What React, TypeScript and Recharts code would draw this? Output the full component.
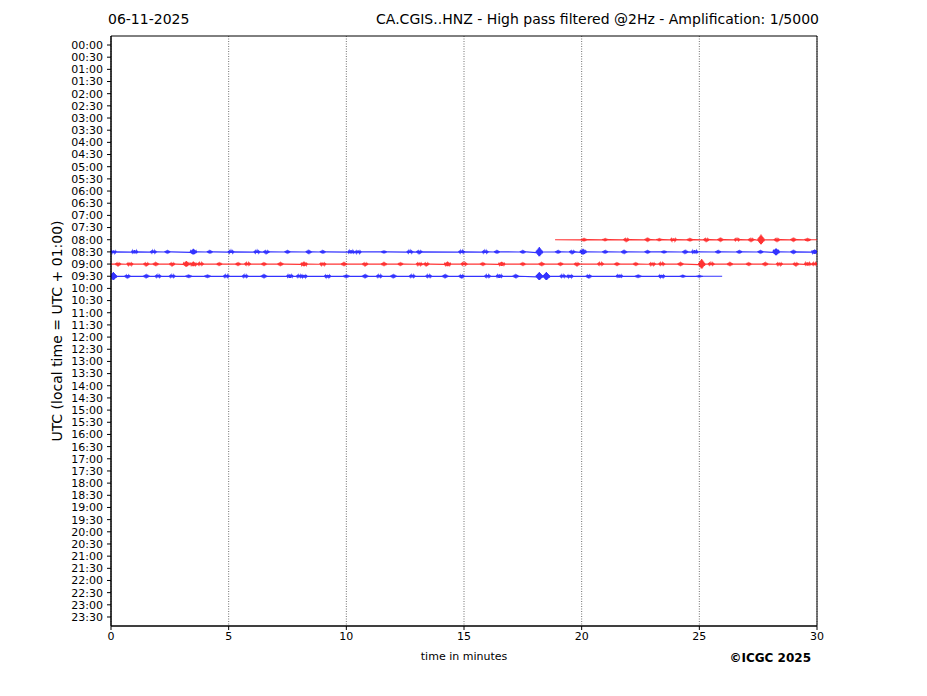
import { LineChart, Line, XAxis, YAxis, CartesianGrid, ReferenceArea } from "recharts";

// helicorder rows: 00:00 .. 23:30 (48 rows of 30 minutes)
const ROW_LABELS: string[] = Array.from({ length: 48 }, (_, i) => {
  const h = String(Math.floor(i / 2)).padStart(2, "0");
  return `${h}:${i % 2 ? "30" : "00"}`;
});
const ROW_TICKS = ROW_LABELS.map((_, i) => i);
const MINUTE_TICKS = [0, 5, 10, 15, 20, 25, 30];

// bursts: [minute, amplitude in row units]
const BURSTS_0800: [number, number][] = [
  [20.1, 0.06], [21.0, 0.05], [21.9, 0.08], [22.8, 0.07], [23.3, 0.05], [23.9, 0.12],
  [24.6, 0.06], [25.3, 0.08], [25.9, 0.07], [26.6, 0.09], [27.2, 0.08], [27.62, 0.42],
  [28.3, 0.08], [29.0, 0.07], [29.6, 0.06],
];
const BURSTS_0830: [number, number][] = [
  [0.1, 0.12], [1.0, 0.15], [1.8, 0.1], [2.4, 0.06], [3.5, 0.25], [4.2, 0.06], [5.1, 0.1],
  [6.2, 0.1], [6.6, 0.08], [7.5, 0.06], [8.4, 0.07], [9.0, 0.06], [10.2, 0.15], [10.5, 0.12],
  [11.6, 0.05], [12.7, 0.1], [13.1, 0.08], [14.9, 0.1], [15.9, 0.1], [16.4, 0.06], [17.5, 0.06],
  [18.2, 0.4], [19.0, 0.06], [19.6, 0.08], [20.06, 0.25], [21.0, 0.06], [21.8, 0.07],
  [22.8, 0.06], [23.5, 0.05], [24.4, 0.07], [24.8, 0.15], [25.8, 0.06], [26.7, 0.06],
  [27.6, 0.06], [28.26, 0.3], [29.0, 0.07], [29.9, 0.2],
];
const BURSTS_0900: [number, number][] = [
  [0.3, 0.08], [0.8, 0.12], [1.5, 0.08], [1.9, 0.07], [2.6, 0.08], [3.2, 0.25], [3.5, 0.2],
  [3.8, 0.1], [4.6, 0.06], [5.4, 0.06], [5.8, 0.1], [6.5, 0.06], [7.2, 0.07], [8.2, 0.2],
  [9.0, 0.12], [9.9, 0.07], [10.8, 0.08], [11.6, 0.07], [12.3, 0.06], [13.1, 0.12],
  [13.4, 0.08], [14.3, 0.2], [15.0, 0.1], [15.8, 0.06], [16.6, 0.18], [17.5, 0.06],
  [18.3, 0.07], [19.1, 0.06], [19.8, 0.08], [20.8, 0.1], [21.5, 0.06], [22.3, 0.06],
  [23.0, 0.12], [23.4, 0.1], [24.2, 0.07], [25.1, 0.42], [25.5, 0.1], [26.3, 0.07],
  [27.1, 0.06], [27.8, 0.07], [28.4, 0.12], [29.1, 0.08], [29.6, 0.15], [29.9, 0.1],
];
const BURSTS_0930: [number, number][] = [
  [0.1, 0.35], [0.7, 0.08], [1.5, 0.07], [2.0, 0.1], [2.6, 0.1], [3.3, 0.06], [4.1, 0.06],
  [4.9, 0.1], [5.7, 0.1], [6.5, 0.07], [7.6, 0.15], [8.0, 0.1], [8.2, 0.12], [9.2, 0.12],
  [10.0, 0.06], [10.8, 0.07], [11.4, 0.1], [12.0, 0.07], [12.8, 0.1], [13.5, 0.1],
  [14.2, 0.07], [14.9, 0.08], [16.0, 0.1], [16.5, 0.15], [17.2, 0.07], [18.2, 0.35],
  [18.5, 0.35], [19.2, 0.1], [19.5, 0.12], [20.3, 0.08], [21.6, 0.14], [22.4, 0.06],
  [23.4, 0.12], [24.3, 0.05], [25.0, 0.04],
];

const TRACES = [
  { name: "08:00", row: 16, start: 18.87, end: 30, bursts: BURSTS_0800, color: "#ff0000" },
  { name: "08:30", row: 17, start: 0, end: 30, bursts: BURSTS_0830, color: "#0000ff" },
  { name: "09:00", row: 18, start: 0, end: 30, bursts: BURSTS_0900, color: "#ff0000" },
  { name: "09:30", row: 19, start: 0, end: 25.97, bursts: BURSTS_0930, color: "#0000ff" },
];

// each burst is drawn as a short zigzag whose swing shrinks away from its centre
const HALF = 0.14;
const STEP = 0.02;

function tracePoints(row: number, start: number, end: number, bursts: [number, number][]) {
  const pts: { t: number; y: number }[] = [{ t: start, y: row }];
  bursts.forEach(([t, a]) => {
    let sign = 1;
    for (let d = -HALF; d <= HALF + 1e-9; d += STEP) {
      const env = 1 - Math.abs(d) / (HALF + STEP);
      pts.push({ t: t + d, y: row + sign * a * env });
      sign = -sign;
    }
    pts.push({ t: t + HALF + STEP, y: row });
  });
  pts.push({ t: end, y: row });
  return pts.filter((p) => p.t >= start && p.t <= end);
}

const FONT = "'DejaVu Sans', sans-serif";

export default function App() {
  return (
    <div style={{ position: "absolute", left: 0, top: 0, width: 927, height: 696, background: "#fff", fontFamily: FONT }}>
      <LineChart width={927} height={696} margin={{ top: 36, right: 110, bottom: 40, left: 51 }}>
        <CartesianGrid horizontal={false} stroke="#333" strokeDasharray="1 1.5" strokeWidth={0.7} />
        <XAxis
          type="number"
          dataKey="t"
          domain={[0, 30]}
          ticks={MINUTE_TICKS}
          height={30}
          tickSize={4}
          tickMargin={2}
          stroke="#000"
          tick={{ fontSize: 11, fill: "#000", fontFamily: FONT }}
          allowDataOverflow
        />
        <YAxis
          type="number"
          dataKey="y"
          domain={[-0.74, 47.74]}
          reversed
          ticks={ROW_TICKS}
          interval={0}
          tickFormatter={(v: number) => ROW_LABELS[v] ?? ""}
          width={60}
          tickSize={4}
          tickMargin={4}
          stroke="#000"
          tick={{ fontSize: 11, fill: "#000", fontFamily: FONT }}
          allowDataOverflow
        />
        <ReferenceArea x1={0} x2={30} y1={-0.74} y2={47.74} fill="none" stroke="#000" strokeWidth={1} ifOverflow="extendDomain" />
        {TRACES.map((tr) => (
          <Line
            key={tr.name}
            data={tracePoints(tr.row, tr.start, tr.end, tr.bursts)}
            dataKey="y"
            type="linear"
            stroke={tr.color}
            strokeOpacity={0.8}
            strokeWidth={1.2}
            dot={false}
            isAnimationActive={false}
          />
        ))}
      </LineChart>
      <div style={{ position: "absolute", left: 108, top: 11, fontSize: 14, color: "#000" }}>06-11-2025</div>
      <div style={{ position: "absolute", right: 927 - 819, top: 11, fontSize: 14, color: "#000", whiteSpace: "nowrap" }}>
        CA.CGIS..HNZ - High pass filtered @2Hz - Amplification: 1/5000
      </div>
      <div
        style={{
          position: "absolute",
          left: 57,
          top: 331,
          width: 400,
          textAlign: "center",
          fontSize: 14,
          whiteSpace: "nowrap",
          transform: "translate(-50%, -50%) rotate(-90deg)",
        }}
      >
        UTC (local time = UTC + 01:00)
      </div>
      <div style={{ position: "absolute", left: 464, top: 650, transform: "translateX(-50%)", fontSize: 11, whiteSpace: "nowrap" }}>
        time in minutes
      </div>
      <div style={{ position: "absolute", right: 927 - 811, top: 651, fontSize: 12, fontWeight: "bold", whiteSpace: "nowrap" }}>
        ©ICGC 2025
      </div>
    </div>
  );
}
